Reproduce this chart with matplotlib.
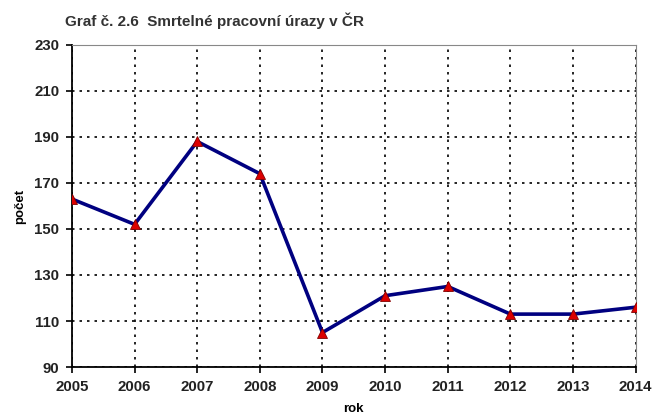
#!/usr/bin/env python
# plot.py - fatal work injuries in CR, 2005-2014
import matplotlib
matplotlib.use("Agg")
from matplotlib import pyplot as plt

years = [2005, 2006, 2007, 2008, 2009, 2010, 2011, 2012, 2013, 2014]
deaths = [163, 152, 188, 174, 105, 121, 125, 113, 113, 116]
y_ticks = [90, 110, 130, 150, 170, 190, 210, 230]

plt.rcParams['font.family'] = ['Liberation Sans', 'DejaVu Sans']
plt.rcParams['font.weight'] = 'bold'

fig = plt.figure(figsize=(6.54, 4.19), dpi=100)
ax = fig.add_axes([0.110, 0.124, 0.862, 0.769])

ax.plot(years, deaths, color='#000080', lw=2.6, marker='^', ms=7.5,
        mfc='#dd0000', mec='#800000', mew=0.6, zorder=3)

ax.set_xlim(years[0], years[-1])
ax.set_ylim(y_ticks[0], y_ticks[-1])
ax.set_xticks(years)
ax.set_yticks(y_ticks)
ax.tick_params(labelsize=10.8, direction='out', length=4, width=1.2,
               colors='black', pad=5)
for lab in ax.get_xticklabels() + ax.get_yticklabels():
    lab.set_color('#222222')

# dotted grid
ax.grid(True, color='black', linestyle=(0, (1.5, 3)), linewidth=1.2)

ax.spines['left'].set_linewidth(1.3)
ax.spines['bottom'].set_linewidth(1.3)
ax.spines['top'].set_color('#888888')
ax.spines['right'].set_color('#888888')

ax.set_xlabel('rok', fontsize=9.5, fontweight='bold', labelpad=7)
ax.set_ylabel('počet', fontsize=9.5, fontweight='bold', labelpad=6)

fig.text(0.099, 0.937, 'Graf č. 2.6  Smrtelné pracovní úrazy v ČR',
         fontsize=11, fontweight='bold', color='#333333', ha='left')

plt.savefig("out.png")
